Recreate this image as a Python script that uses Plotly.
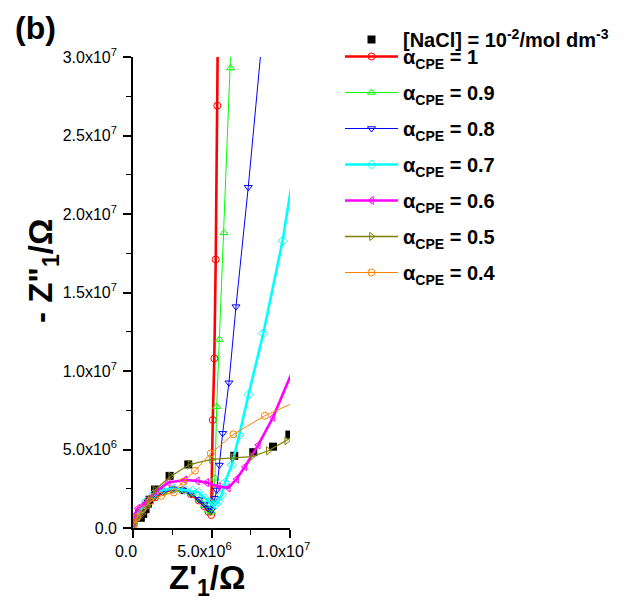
import plotly.graph_objects as go

W, H = 630, 605
FONT = "Arial, Liberation Sans, Helvetica, sans-serif"
MEGA = 1e6  # impedance values below are listed in units of 1e6 Ohm

# Measured spectrum, [NaCl] = 1e-2 mol dm^-3
nacl_re = [0.5, 0.65, 0.8, 0.95, 1.05, 1.4, 2.33, 3.52, 6.45, 7.66, 8.92, 9.96]
nacl_im = [0.65, 0.9, 1.2, 1.55, 1.8, 2.45, 3.32, 4.05, 4.6, 4.83, 5.18, 5.95]

# Simulated spectra for different CPE exponents
a100_re = [0.04, 0.15, 0.4, 0.85, 1.4, 1.95, 2.55, 3.15, 3.7, 4.2, 4.55, 4.8, 4.98, 5.08, 5.18, 5.27, 5.37, 5.5]
a100_im = [0.22, 0.55, 0.95, 1.45, 1.95, 2.3, 2.45, 2.4, 2.15, 1.75, 1.38, 1.05, 0.83, 6.88, 10.8, 17.1, 26.9, 42.0]

a090_re = [0.04, 0.15, 0.4, 0.85, 1.4, 1.95, 2.55, 3.15, 3.7, 4.2, 4.55, 4.8, 5.01, 5.22, 5.33, 5.5, 5.8, 6.22, 6.8]
a090_im = [0.24, 0.58, 1.0, 1.5, 1.98, 2.32, 2.46, 2.4, 2.16, 1.77, 1.42, 1.12, 1.0, 3.17, 7.73, 12.0, 18.8, 29.3, 45.0]

a080_re = [0.04, 0.15, 0.4, 0.85, 1.4, 1.95, 2.55, 3.15, 3.7, 4.2, 4.55, 4.8, 5.01, 5.22, 5.33, 5.5, 5.71, 6.11, 6.56, 7.34, 8.45]
a080_im = [0.26, 0.6, 1.02, 1.52, 2.0, 2.33, 2.47, 2.42, 2.2, 1.82, 1.5, 1.25, 1.15, 1.89, 2.42, 4.01, 6.03, 9.25, 14.1, 21.7, 33.6]

a070_re = [0.04, 0.2, 0.5, 0.85, 1.29, 1.9, 2.6, 3.31, 3.8, 4.16, 4.59, 4.85, 5.05, 5.25, 5.44, 5.65, 5.86, 6.29, 6.77, 7.36, 8.3, 9.53, 10.6]
a070_im = [0.3, 0.7, 1.2, 1.7, 2.15, 2.42, 2.52, 2.42, 2.36, 2.28, 1.9, 1.65, 1.5, 1.48, 1.68, 2.1, 2.89, 4.01, 5.92, 8.5, 12.4, 18.3, 25.0]

a060_re = [0.02, 0.1, 0.3, 0.7, 1.0, 1.5, 2.25, 3.3, 4.1, 4.69, 5.44, 6.07, 6.6, 7.13, 7.98, 8.92, 10.5]
a060_im = [0.35, 0.8, 1.25, 1.5, 1.85, 2.35, 2.9, 3.06, 3.0, 2.89, 2.65, 2.55, 3.12, 3.9, 5.29, 7.05, 10.8]

a050_re = [0.05, 0.3, 0.6, 0.9, 1.1, 1.4, 2.4, 3.63, 5.01, 6.39, 7.56, 8.62, 9.79, 11.0]
a050_im = [0.3, 0.6, 0.9, 1.35, 1.8, 2.42, 3.3, 4.06, 4.37, 4.48, 4.54, 4.92, 5.56, 6.3]

a040_re = [0.05, 0.25, 0.6, 1.1, 1.8, 2.6, 3.2, 3.95, 4.95, 6.4, 8.4, 10.5]
a040_im = [0.2, 0.7, 1.2, 1.7, 2.05, 2.27, 2.95, 3.65, 4.75, 5.97, 7.15, 8.1]

series = [
    ("1", a100_re, a100_im, "#FF0000", "circle-open", 2.6),
    ("0.9", a090_re, a090_im, "#00FF00", "triangle-up-open", 1.0),
    ("0.8", a080_re, a080_im, "#0000FF", "triangle-down-open", 1.0),
    ("0.7", a070_re, a070_im, "#00FFFF", "diamond-open", 2.6),
    ("0.6", a060_re, a060_im, "#FF00FF", "triangle-left-open", 2.6),
    ("0.5", a050_re, a050_im, "#808000", "triangle-right-open", 1.3),
    ("0.4", a040_re, a040_im, "#FF8000", "circle-open", 1.0),
]

# Axis ticks
x_tickvals = [0, 5e6, 1e7]
x_ticktext = ["0.0", "5.0x10<sup>6</sup>", "1.0x10<sup>7</sup>"]
y_tickvals = [0, 5e6, 1e7, 1.5e7, 2e7, 2.5e7, 3e7]
y_ticktext = ["0.0", "5.0x10<sup>6</sup>", "1.0x10<sup>7</sup>", "1.5x10<sup>7</sup>",
              "2.0x10<sup>7</sup>", "2.5x10<sup>7</sup>", "3.0x10<sup>7</sup>"]
x_minor = [2.5e6, 7.5e6]
y_minor = [2.5e6, 7.5e6, 1.25e7, 1.75e7, 2.25e7, 2.75e7]

fig = go.Figure()

fig.add_trace(go.Scatter(
    x=[v * MEGA for v in nacl_re], y=[v * MEGA for v in nacl_im],
    mode="markers", name="[NaCl] = 10<sup>-2</sup>/mol dm<sup>-3</sup>",
    marker=dict(symbol="square", size=8, color="black"),
    legend="legend2",
))

for i, (label, xs, ys, color, symbol, lw) in enumerate(series):
    fig.add_trace(go.Scatter(
        x=[v * MEGA for v in xs], y=[v * MEGA for v in ys],
        mode="lines+markers",
        name="α<sub>CPE</sub> = " + label,
        line=dict(color=color, width=lw),
        marker=dict(symbol=symbol, size=7, color=color, line=dict(width=1, color=color)),
        legendgroup="g%d" % i,
    ))

# plot area in pixels: x 133..290, y 57..528
x0, x1, y0, y1 = 133, 290, 57, 528
axis_common = dict(
    showgrid=False, zeroline=False, showline=True, linecolor="black", linewidth=1.6,
    ticks="outside", ticklen=8, tickwidth=1.6, tickcolor="black",
    tickfont=dict(family=FONT, size=16, color="black"),
    mirror=False, fixedrange=True, automargin=False,
)
fig.update_layout(
    width=W, height=H,
    margin=dict(l=0, r=0, t=0, b=0, pad=0, autoexpand=False),
    paper_bgcolor="white", plot_bgcolor="white",
    xaxis=dict(
        domain=[x0 / W, x1 / W], range=[0, 1e7],
        tickmode="array", tickvals=x_tickvals, ticktext=x_ticktext,
        minor=dict(tickmode="array", tickvals=x_minor, ticks="outside", ticklen=5,
                   tickwidth=1.4, tickcolor="black"),
        ticklabelshift=-7,
        **axis_common,
    ),
    yaxis=dict(
        domain=[1 - y1 / H, 1 - y0 / H], range=[0, 3e7],
        tickmode="array", tickvals=y_tickvals, ticktext=y_ticktext,
        minor=dict(tickmode="array", tickvals=y_minor, ticks="outside", ticklen=5,
                   tickwidth=1.4, tickcolor="black"),
        ticklabelstandoff=3,
        **axis_common,
    ),
    showlegend=True,
    legend=dict(
        x=340 / W, xanchor="left", y=1 - 37 / H, yanchor="top",
        itemwidth=53, tracegroupgap=7, bgcolor="rgba(0,0,0,0)", borderwidth=0,
        font=dict(family=FONT, size=20, color="black", weight="bold"),
    ),
    legend2=dict(
        x=340 / W, xanchor="left", y=1 - 20 / H, yanchor="top",
        itemwidth=53, bgcolor="rgba(0,0,0,0)", borderwidth=0,
        font=dict(family=FONT, size=20, color="black", weight="bold"),
    ),
    annotations=[
        dict(text="<b>(b)</b>", x=35 / W, y=1 - 28 / H, xref="paper", yref="paper",
             xanchor="center", yanchor="middle", showarrow=False,
             font=dict(family=FONT, size=32, color="black")),
        dict(text='<b>- Z"<sub>1</sub>/Ω</b>', x=43 / W, y=1 - 271 / H, xref="paper", yref="paper",
             xanchor="center", yanchor="middle", textangle=-90, showarrow=False,
             font=dict(family=FONT, size=33, color="black")),
        dict(text="<b>Z'<sub>1</sub>/Ω</b>", x=207 / W, y=1 - 580 / H, xref="paper", yref="paper",
             xanchor="center", yanchor="middle", showarrow=False,
             font=dict(family=FONT, size=33, color="black")),
    ],
)

fig.write_html("out.html")
